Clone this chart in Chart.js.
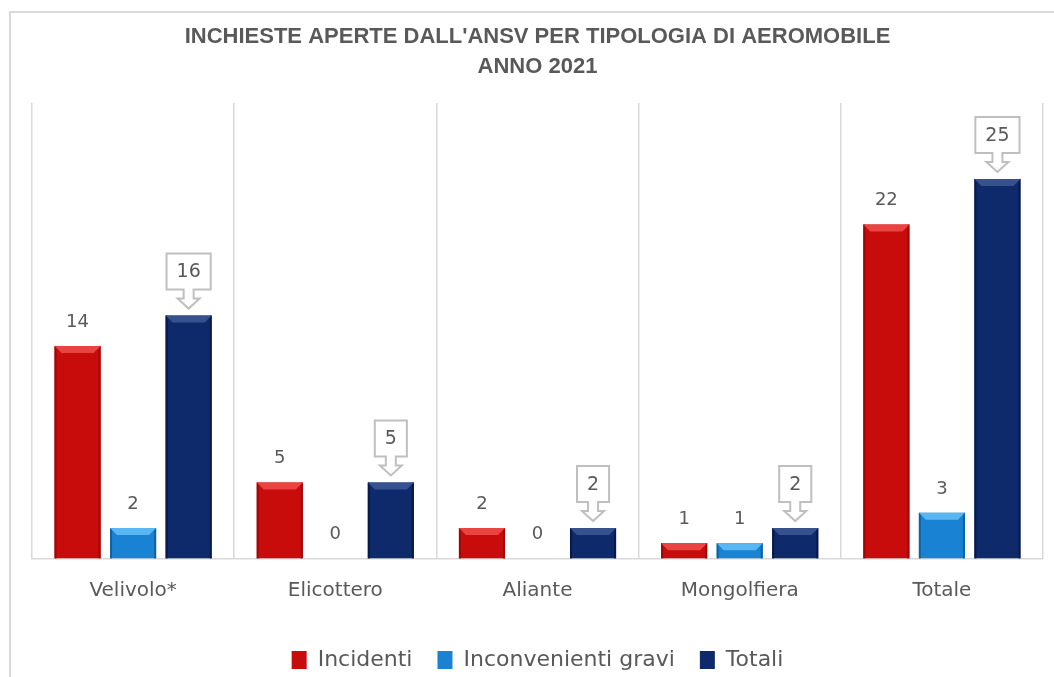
<!DOCTYPE html>
<html>
<head>
<meta charset="utf-8">
<script src="https://cdn.jsdelivr.net/npm/chart.js"></script>
<style>
  html, body { margin: 0; padding: 0; background: #fff; }
  #wrap { width: 1054px; height: 677px; }
</style>
</head>
<body>
<div id="wrap"><canvas id="grafico" width="1054" height="677"></canvas></div>
<script>
// Dati
const categorie = ['Velivolo*', 'Elicottero', 'Aliante', 'Mongolfiera', 'Totale'];
const incidenti = [14, 5, 2, 1, 22];
const inconvenientiGravi = [2, 0, 0, 1, 3];
const totali = [16, 5, 2, 2, 25];
const titolo = ["INCHIESTE APERTE DALL'ANSV PER TIPOLOGIA DI AEROMOBILE", 'ANNO 2021'];

const grigio = '#595959';
const fontTesto = "'DejaVu Sans', sans-serif";
const fontTitolo = "'Liberation Sans Narrow', 'Liberation Sans', sans-serif";

// colori: base, bevel chiaro, bordo scuro
const stili = [
    { fill: '#C80B0B', light: '#EA4442', dark: '#A00606' },
    { fill: '#1A82D2', light: '#58B6F3', dark: '#12629F' },
    { fill: '#0E2A6A', light: '#35528F', dark: '#08194A' }
];

// Cornice esterna
const cornice = {
    id: 'cornice',
    beforeDraw(chart) {
        const ctx = chart.ctx;
        ctx.save();
        ctx.strokeStyle = '#d9d9d9';
        ctx.lineWidth = 2;
        ctx.beginPath();
        ctx.moveTo(10, 677);
        ctx.lineTo(10, 12);
        ctx.lineTo(1054, 12);
        ctx.stroke();
        ctx.restore();
    }
};

// Effetto smussato sulle barre
const smusso = {
    id: 'smusso',
    afterDatasetsDraw(chart) {
        const ctx = chart.ctx;
        chart.data.datasets.forEach((ds, i) => {
            const st = stili[i];
            chart.getDatasetMeta(i).data.forEach(bar => {
                const h = bar.base - bar.y;
                if (h <= 0) return;
                const l = bar.x - bar.width / 2;
                const r = bar.x + bar.width / 2;
                const b = Math.min(7, h / 2);
                ctx.save();
                ctx.fillStyle = st.dark;
                ctx.fillRect(l, bar.y, 2, h);
                ctx.fillRect(r - 2, bar.y, 2, h);
                ctx.fillStyle = st.light;
                ctx.beginPath();
                ctx.moveTo(l, bar.y);
                ctx.lineTo(r, bar.y);
                ctx.lineTo(r - b, bar.y + b);
                ctx.lineTo(l + b, bar.y + b);
                ctx.closePath();
                ctx.fill();
                ctx.restore();
            });
        });
    }
};

// Etichette dei valori e callout per i totali
const etichette = {
    id: 'etichette',
    afterDatasetsDraw(chart) {
        const ctx = chart.ctx;
        ctx.save();
        ctx.textAlign = 'center';
        ctx.textBaseline = 'middle';
        ctx.fillStyle = grigio;
        chart.data.datasets.forEach((ds, i) => {
            chart.getDatasetMeta(i).data.forEach((bar, j) => {
                const testo = String(ds.data[j]);
                if (i < 2) {
                    ctx.font = '18px ' + fontTesto;
                    ctx.fillText(testo, bar.x, bar.y - 24);
                    return;
                }
                // callout
                ctx.font = '19px ' + fontTesto;
                const w = ctx.measureText(testo).width + 20;
                const cx = bar.x;
                const bottom = bar.y - 26;
                const top = bar.y - 62;
                ctx.strokeStyle = '#bfbfbf';
                ctx.lineWidth = 2;
                ctx.fillStyle = '#fff';
                ctx.beginPath();
                ctx.moveTo(cx - w / 2, top);
                ctx.lineTo(cx + w / 2, top);
                ctx.lineTo(cx + w / 2, bottom);
                ctx.lineTo(cx + 5, bottom);
                ctx.lineTo(cx + 5, bottom + 9);
                ctx.lineTo(cx + 11, bottom + 9);
                ctx.lineTo(cx, bottom + 19);
                ctx.lineTo(cx - 11, bottom + 9);
                ctx.lineTo(cx - 5, bottom + 9);
                ctx.lineTo(cx - 5, bottom);
                ctx.lineTo(cx - w / 2, bottom);
                ctx.closePath();
                ctx.fill();
                ctx.stroke();
                ctx.fillStyle = grigio;
                ctx.fillText(testo, cx, (top + bottom) / 2 + 1);
            });
        });
        ctx.restore();
    }
};

new Chart(document.getElementById('grafico'), {
    type: 'bar',
    data: {
        labels: categorie,
        datasets: [
            { label: 'Incidenti', data: incidenti, backgroundColor: stili[0].fill },
            { label: 'Inconvenienti gravi', data: inconvenientiGravi, backgroundColor: stili[1].fill },
            { label: 'Totali', data: totali, backgroundColor: stili[2].fill }
        ]
    },
    options: {
        responsive: false,
        animation: false,
        datasets: {
            bar: { categoryPercentage: 0.824, barPercentage: 0.83 }
        },
        layout: { padding: { top: 22, left: 32, right: 11, bottom: -4 } },
        plugins: {
            title: {
                display: true,
                text: titolo,
                color: grigio,
                font: { family: fontTitolo, size: 22, weight: 'bold', lineHeight: 1.364 },
                padding: { top: 0, bottom: 21 }
            },
            legend: {
                position: 'bottom',
                labels: {
                    color: grigio,
                    font: { family: fontTesto, size: 22 },
                    boxWidth: 15,
                    boxHeight: 18,
                    padding: 25
                }
            },
            tooltip: { enabled: false }
        },
        scales: {
            x: {
                grid: { offset: true, color: '#d9d9d9', lineWidth: 1.5, drawTicks: false },
                border: { color: '#d9d9d9', width: 1.5 },
                ticks: { color: grigio, font: { family: fontTesto, size: 20 }, padding: 20 },
                afterFit(scale) { scale.height = 65.6; }
            },
            y: { display: false, min: 0, max: 30 }
        }
    },
    plugins: [cornice, smusso, etichette]
});
</script>
</body>
</html>
